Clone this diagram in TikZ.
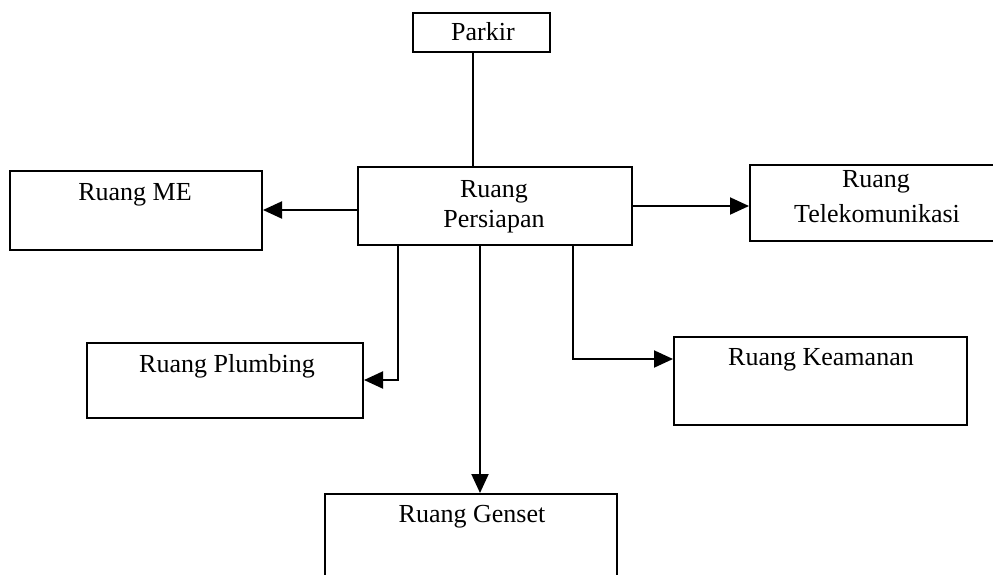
\documentclass[tikz,border=0pt]{standalone}
\usepackage{fontspec}
\setmainfont{Liberation Serif}
\usetikzlibrary{arrows.meta}
\begin{document}
\begin{tikzpicture}[x=1pt,y=-1pt,
  box/.style={draw,line width=2pt,inner sep=0pt},
  lbl/.style={anchor=base,inner sep=0pt,font=\fontsize{26}{30}\selectfont},
  conn/.style={line width=2pt},
  arr/.style={conn,-{Triangle[length=19pt,width=17pt]}}]
\useasboundingbox (0,0) rectangle (993,574);
\clip (0,0) rectangle (993,574);
% boxes
\node[box,minimum width=137pt,minimum height=39pt] (parkir) at (481.5,32.5) {};
\node[box,minimum width=274pt,minimum height=78pt] (ps) at (495,206) {};
\node[box,minimum width=252pt,minimum height=79pt] (me) at (136,210) {};
\node[box,minimum width=260pt,minimum height=76pt] (tel) at (880,203) {};
\node[box,minimum width=276pt,minimum height=75pt] (pl) at (225,380) {};
\node[box,minimum width=293pt,minimum height=88pt] (ke) at (820.5,381) {};
\node[box,minimum width=292pt,minimum height=120pt] (gs) at (471,554) {};
% texts
\node[lbl] (parkirtext) at (483,40) {Parkir};
\node[lbl] (pstext1) at (494,197) {Ruang};
\node[lbl] (pstext2) at (494,227) {Persiapan};
\node[lbl] (metext) at (135,200) {Ruang ME};
\node[lbl] (teltext1) at (876,187) {Ruang};
\node[lbl] (teltext2) at (877,222) {Telekomunikasi};
\node[lbl] (pltext) at (227,372) {Ruang Plumbing};
\node[lbl] (ketext) at (821,365) {Ruang Keamanan};
\node[lbl] (gstext) at (472,522) {Ruang Genset};
% connectors
\draw[conn] ([xshift=-8.5pt]parkir.south) -- ([xshift=-8.5pt]parkir.south |- ps.north);
\draw[arr] (me.east -| ps.west) -- (me.east);
\draw[arr] (ps.east) -- (tel.west |- ps.east);
\draw[arr] ([xshift=41pt]ps.south west) |- (pl.east);
\draw[arr] ([xshift=-60pt]ps.south east) |- ([yshift=22pt]ke.west);
\draw[arr] ([xshift=-15pt]ps.south) -- ([xshift=-15pt]ps.south |- gs.north);
\end{tikzpicture}
\end{document}
